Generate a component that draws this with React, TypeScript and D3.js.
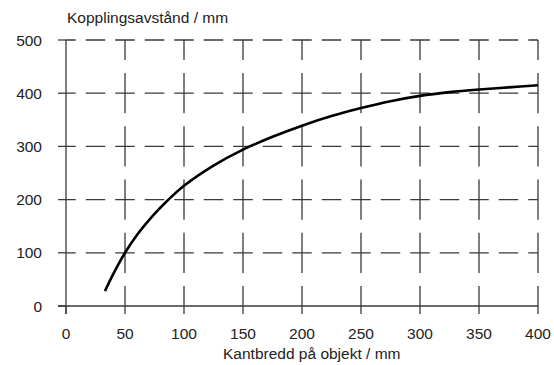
import React, { useEffect, useRef } from "react";
import * as d3 from "d3";

// curve (x = edge width mm, y = switching distance mm)
const widths = [33, 40, 50, 60, 75, 85, 100, 125, 150, 175, 200, 225, 250, 275, 300, 325, 350, 375, 400];
const distances = [28, 60, 100, 133, 173, 196, 226, 264, 294, 318, 339, 357, 372, 385, 395, 402, 407, 411, 415];
const xTicks = [0, 50, 100, 150, 200, 250, 300, 350, 400];
const yTicks = [0, 100, 200, 300, 400, 500];
const yTitle = "Kopplingsavstånd / mm";
const xTitle = "Kantbredd på objekt / mm";

const App = () => {
  const ref = useRef<SVGSVGElement>(null);

  useEffect(() => {
    const svg = d3.select(ref.current);
    svg.selectAll("*").remove();

    const width = 554;
    const height = 365;
    const margin = { top: 40, right: 16, bottom: 59, left: 66 };

    const x = d3.scaleLinear().domain([0, 400]).range([margin.left, width - margin.right]);
    const y = d3.scaleLinear().domain([0, 500]).range([height - margin.bottom, margin.top]);

    const font = "'Liberation Sans', Arial, sans-serif";
    const gridColor = "#3a3a3a";
    const fontSize = "15.5px";

    // dashed grid, dash centred on each crossing
    const hStep = x(50) - x(0);
    const hDash = hStep / 2 - 10;
    const vStep = y(0) - y(100);
    const vDash = vStep - 13;

    svg.append("g")
      .selectAll("line")
      .data(yTicks.filter(d => d > 0))
      .enter()
      .append("line")
      .attr("x1", x(0))
      .attr("x2", x(400))
      .attr("y1", d => y(d))
      .attr("y2", d => y(d))
      .attr("stroke", gridColor)
      .attr("stroke-width", 1.3)
      .attr("stroke-dasharray", `${hDash} ${hStep / 2 - hDash}`)
      .attr("stroke-dashoffset", hDash / 2);

    svg.append("g")
      .selectAll("line")
      .data(xTicks.filter(d => d > 0))
      .enter()
      .append("line")
      .attr("x1", d => x(d))
      .attr("x2", d => x(d))
      .attr("y1", y(500))
      .attr("y2", y(0))
      .attr("stroke", gridColor)
      .attr("stroke-width", 1.3)
      .attr("stroke-dasharray", `${vDash} ${vStep - vDash}`)
      .attr("stroke-dashoffset", vDash / 2);

    // solid axes
    svg.append("line")
      .attr("x1", x(0)).attr("x2", x(0))
      .attr("y1", y(500)).attr("y2", y(0) + 8)
      .attr("stroke", gridColor).attr("stroke-width", 1.3);
    svg.append("line")
      .attr("x1", x(0) - 8).attr("x2", x(400))
      .attr("y1", y(0)).attr("y2", y(0))
      .attr("stroke", gridColor).attr("stroke-width", 1.3);

    // tick stubs
    svg.append("g")
      .selectAll("line")
      .data(xTicks)
      .enter()
      .append("line")
      .attr("x1", d => x(d)).attr("x2", d => x(d))
      .attr("y1", y(0)).attr("y2", y(0) + 8)
      .attr("stroke", gridColor).attr("stroke-width", 1.3);
    svg.append("g")
      .selectAll("line")
      .data(yTicks)
      .enter()
      .append("line")
      .attr("x1", x(0) - 8).attr("x2", x(0))
      .attr("y1", d => y(d)).attr("y2", d => y(d))
      .attr("stroke", gridColor).attr("stroke-width", 1.3);

    // tick labels
    svg.append("g")
      .selectAll("text")
      .data(xTicks)
      .enter()
      .append("text")
      .attr("x", d => x(d))
      .attr("y", y(0) + 33)
      .attr("text-anchor", "middle")
      .style("font-family", font)
      .style("font-size", fontSize)
      .attr("fill", "#222")
      .text(d => d);
    svg.append("g")
      .selectAll("text")
      .data(yTicks)
      .enter()
      .append("text")
      .attr("x", x(0) - 24)
      .attr("y", d => y(d) + 5.5)
      .attr("text-anchor", "end")
      .style("font-family", font)
      .style("font-size", fontSize)
      .attr("fill", "#222")
      .text(d => d);

    // titles
    svg.append("text")
      .attr("x", x(0) + 1)
      .attr("y", 23)
      .style("font-family", font)
      .style("font-size", fontSize)
      .attr("fill", "#222")
      .text(yTitle);
    svg.append("text")
      .attr("x", 223)
      .attr("y", 358.5)
      .style("font-family", font)
      .style("font-size", fontSize)
      .attr("fill", "#222")
      .text(xTitle);

    // curve
    const points = widths.map((w, i) => [w, distances[i]] as [number, number]);
    const line = d3.line<[number, number]>()
      .x(d => x(d[0]))
      .y(d => y(d[1]))
      .curve(d3.curveCatmullRom.alpha(0.5));
    svg.append("path")
      .datum(points)
      .attr("d", line)
      .attr("fill", "none")
      .attr("stroke", "#000")
      .attr("stroke-width", 2.6);
  }, []);

  return (
    <svg
      ref={ref}
      width={554}
      height={365}
      style={{ position: "absolute", left: 0, top: 0, background: "#fff" }}
    />
  );
};

export default App;
